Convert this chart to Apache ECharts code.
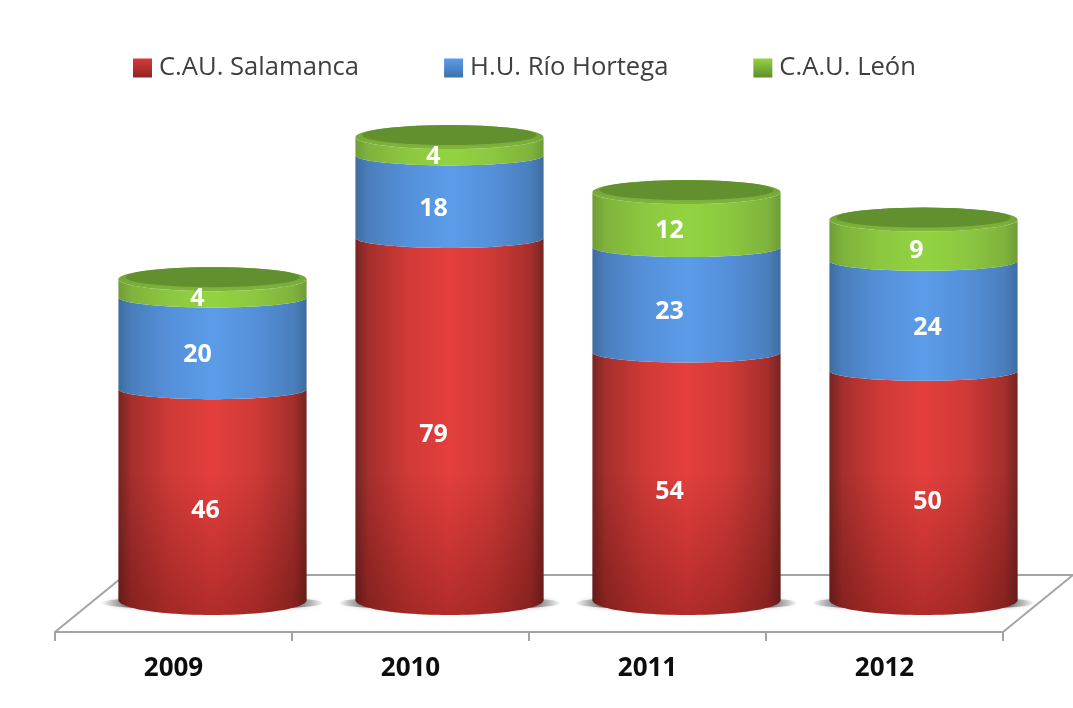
<!DOCTYPE html>
<html><head><meta charset="utf-8">
<style>html,body{margin:0;padding:0;background:#fff}#c{width:1073px;height:708px}</style>
<script src="https://cdn.jsdelivr.net/npm/echarts@6/dist/echarts.min.js"></script>
</head><body><div id="c"></div>
<script>
const years = ['2009','2010','2011','2012'];
const salamanca = [46,79,54,50];
const rioHortega = [20,18,23,24];
const leon = [4,4,12,9];
const seriesNames = ['C.AU. Salamanca','H.U. Río Hortega','C.A.U. León'];

const stacks = [salamanca, rioHortega, leon];
const DX = 39, DY = -32;           // depth shift of the bars onto the floor
const FONT = '"Open Sans", sans-serif';
// label nudges as in the source picture: [red, blue, green] per year
const labelDX = [[-7,-15,-15],[-16,-16,-16],[-17,-17,-17],[4,4,-7]];
const labelDY = [6,4,2];
const hGrad = (a,b,c,d) => ({type:'linear',x:0,y:0,x2:1,y2:0,colorStops:[
  {offset:0,color:a},{offset:.07,color:b},{offset:.28,color:c},{offset:.5,color:d},{offset:.72,color:c},{offset:.93,color:b},{offset:1,color:a}]});
const vGrad = (a,b) => ({type:'linear',x:0,y:0,x2:0,y2:1,colorStops:[{offset:0,color:a},{offset:1,color:b}]});
const palettes = [
  {side:hGrad('#742522','#a52f2c','#d03a37','#e43f3c'), legend:vGrad('#d83a36','#8e2523')},
  {side:hGrad('#3f6c9f','#4a7fbd','#5590da','#5b9ce8'), legend:vGrad('#5b9ce8','#3f70ab')},
  {side:hGrad('#6f9c38','#7fb33c','#8cc840','#93d341'), legend:vGrad('#93d341','#5f8d2c')}
];

function arc(cx,cy,rx,ry,from,to){
  const pts=[]; const n=48;
  for(let i=0;i<=n;i++){const t=from+(to-from)*i/n; pts.push([cx+rx*Math.cos(t),cy+ry*Math.sin(t)]);}
  return pts;
}
function segmentRender(si){
  return function(params,api){
    const i=api.value(0);
    let base=0; for(let k=0;k<si;k++) base+=stacks[k][i];
    const val=stacks[si][i], top=base+val;
    const band=api.size([1,0])[0];
    const rx=band*0.397;
    const cx=api.coord([i,0])[0]+DX;
    const yB=api.coord([i,base])[1]+DY, yT=api.coord([i,top])[1]+DY;
    const ryB=base===0?15:10, ryT=si===2?12:10;
    const body=arc(cx,yB,rx,ryB,0,Math.PI).concat(arc(cx,yT,rx,ryT,Math.PI,0));
    const kids=[{type:'polygon',shape:{points:body},style:{fill:palettes[si].side}}];
    if(si===0){
      kids.push({type:'polygon',shape:{points:body},style:{fill:{type:'linear',global:true,x:0,y:470,x2:0,y2:615,
        colorStops:[{offset:0,color:'rgba(60,0,0,0)'},{offset:1,color:'rgba(60,0,0,0.30)'}]}}});
    }
    if(si===2){
      // bevelled cap: dark disc melting into the side wall
      kids.push({type:'polygon',shape:{points:arc(cx,yT,rx,ryT,0,2*Math.PI)},style:{fill:{type:'linear',x:0,y:0,x2:0,y2:1,
        colorStops:[{offset:0,color:'#6c9c33'},{offset:1,color:'#7fb63b'}]}}});
      kids.push({type:'polygon',shape:{points:arc(cx,yT-2,rx-7,ryT-2,0,2*Math.PI)},style:{fill:'#62902e'}});
    }
    const mid=(yB+yT)/2+(ryB+ryT)/2*0.8+labelDY[si];
    kids.push({type:'text',z2:10,style:{x:cx+labelDX[i][si],y:mid,text:String(val),fill:'#fff',font:'bold 25px '+FONT,align:'center',verticalAlign:'middle'}});
    return {type:'group',children:kids};
  };
}
function floorRender(params){
  const c=params.coordSys, x0=c.x, x1=c.x+c.width, y0=c.y+c.height, d=70, h=57;
  return {type:'polyline',shape:{points:[[x0,y0],[x0+d,y0-h],[x1+d,y0-h],[x1,y0]]},style:{stroke:'#a4a4a4',lineWidth:2,fill:null}};
}
function shadowRender(params,api){
  const i=api.value(0), band=api.size([1,0])[0];
  const cx=api.coord([i,0])[0]+DX, y=api.coord([i,0])[1]+DY+3;
  return {type:'polygon',shape:{points:arc(cx,y,band*0.47,7,0,2*Math.PI)},style:{shadowBlur:4,shadowColor:'rgba(110,110,110,.5)',fill:{type:'linear',x:0,y:0,x2:1,y2:0,colorStops:[
    {offset:0,color:'rgba(110,110,110,0)'},{offset:.12,color:'rgba(110,110,110,.85)'},{offset:.88,color:'rgba(110,110,110,.85)'},{offset:1,color:'rgba(110,110,110,0)'}]}}};
}
const catData=years.map((y,i)=>[i,0]);
const chart=echarts.init(document.getElementById('c'),null,{renderer:'canvas'});
chart.setOption({
  animation:false,
  backgroundColor:'#fff',
  legend:{data:seriesNames,left:128,top:50,itemWidth:19,itemHeight:19,itemGap:85,icon:'rect',
    textStyle:{fontFamily:FONT,fontSize:25.6,color:'#3f3f3f',padding:[0,0,0,2]}},
  grid:{left:55,width:948,top:82,height:550,containLabel:false},
  xAxis:{type:'category',data:years,
    axisLine:{show:true,lineStyle:{color:'#a4a4a4',width:2}},
    axisTick:{show:true,alignWithLabel:false,length:9,lineStyle:{color:'#a4a4a4',width:2}},
    axisLabel:{color:'#0d0d0d',fontFamily:FONT,fontWeight:'bold',fontSize:26,margin:24},
    splitLine:{show:false}},
  yAxis:{type:'value',min:0,max:120,show:false,splitLine:{show:false}},
  series:[
    {type:'custom',name:'floor',silent:true,clip:false,data:[[0,0]],renderItem:floorRender,z:1},
    {type:'custom',name:'shadow',silent:true,clip:false,data:catData,renderItem:shadowRender,z:1},
    ...seriesNames.map((n,si)=>({type:'custom',name:n,clip:false,data:catData,renderItem:segmentRender(si),z:2+si,
      itemStyle:{color:palettes[si].legend}}))
  ]
});
</script></body></html>
